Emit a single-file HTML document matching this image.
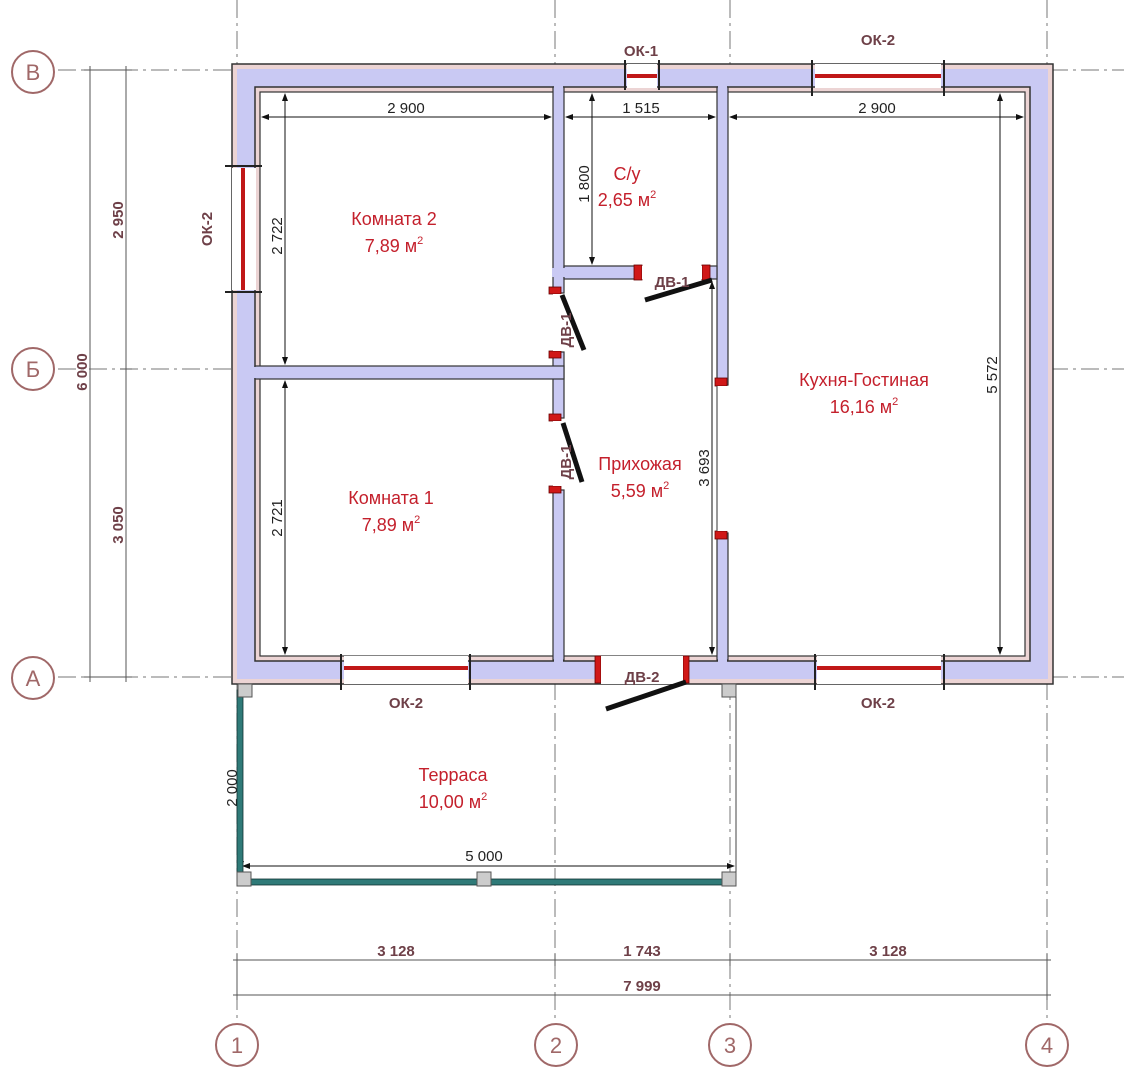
<!DOCTYPE html>
<html><head><meta charset="utf-8"><style>
html,body{margin:0;padding:0;background:#fff}
svg{display:block}
.ax{font:22px "Liberation Sans",sans-serif;fill:#a06868;text-anchor:middle}
.lb{font:bold 15px "Liberation Sans",sans-serif;fill:#6e4048;text-anchor:middle}
.rm{font:18px "Liberation Sans","DejaVu Sans",sans-serif;fill:#c4202c;text-anchor:middle}
.dm{font:15px "Liberation Sans",sans-serif;fill:#222;text-anchor:middle}
</style></head><body>
<svg width="1124" height="1080" xmlns="http://www.w3.org/2000/svg">
<defs>
<marker id="a" markerWidth="8" markerHeight="8" refX="7" refY="4" orient="auto-start-reverse"><path d="M0,1 L8,4 L0,7Z" fill="#111"/></marker>
</defs>
<!-- grid lines -->
<g stroke="#777" stroke-width="1" stroke-dasharray="18,5,3,5">
<line x1="237" y1="0" x2="237" y2="1020"/><line x1="555" y1="0" x2="555" y2="1020"/>
<line x1="730" y1="0" x2="730" y2="1020"/><line x1="1047" y1="0" x2="1047" y2="1020"/>
<line x1="58" y1="70" x2="1124" y2="70"/><line x1="58" y1="369" x2="1124" y2="369"/><line x1="58" y1="677" x2="1124" y2="677"/>
</g>
<!-- axis circles -->
<g fill="#fff" stroke="#a06868" stroke-width="2">
<circle cx="33" cy="72" r="21"/><circle cx="33" cy="369" r="21"/><circle cx="33" cy="678" r="21"/>
<circle cx="237" cy="1045" r="21"/><circle cx="556" cy="1045" r="21"/><circle cx="730" cy="1045" r="21"/><circle cx="1047" cy="1045" r="21"/>
</g>
<text class="ax" x="33" y="80">В</text><text class="ax" x="33" y="377">Б</text><text class="ax" x="33" y="686">А</text>
<text class="ax" x="237" y="1053">1</text><text class="ax" x="556" y="1053">2</text><text class="ax" x="730" y="1053">3</text><text class="ax" x="1047" y="1053">4</text>
<!-- left dims -->
<g stroke="#555" stroke-width="1">
<line x1="90" y1="66" x2="90" y2="682"/><line x1="126" y1="66" x2="126" y2="682"/>
<line x1="84" y1="70" x2="132" y2="70"/><line x1="84" y1="677" x2="132" y2="677"/><line x1="120" y1="369" x2="132" y2="369"/>
<line x1="233" y1="960" x2="1051" y2="960"/><line x1="233" y1="995" x2="1051" y2="995"/>
<line x1="237" y1="954" x2="237" y2="1000"/><line x1="555" y1="954" x2="555" y2="966"/><line x1="730" y1="954" x2="730" y2="966"/><line x1="1047" y1="954" x2="1047" y2="1000"/>
</g>
<text class="lb" transform="translate(87,372) rotate(-90)">6 000</text>
<text class="lb" transform="translate(123,220) rotate(-90)">2 950</text>
<text class="lb" transform="translate(123,525) rotate(-90)">3 050</text>
<text class="lb" x="396" y="956">3 128</text><text class="lb" x="642" y="956">1 743</text><text class="lb" x="888" y="956">3 128</text>
<text class="lb" x="642" y="991">7 999</text>
<!-- walls -->
<rect x="232" y="64" width="821" height="620" fill="#ecd4d4" stroke="#333" stroke-width="1.5"/>
<rect x="237" y="69" width="811" height="610" fill="#c9c9f3"/>
<rect x="255" y="87" width="775" height="574" fill="#ecd4d4" stroke="#333" stroke-width="1.5"/>
<rect x="260" y="92" width="765" height="564" fill="#fff" stroke="#333" stroke-width="1.2"/>
<!-- interior walls -->
<g fill="#c9c9f3" stroke="#333" stroke-width="1.2">
<rect x="553" y="87" width="11" height="206"/>
<rect x="553" y="352" width="11" height="66"/>
<rect x="553" y="490" width="11" height="170"/>
<rect x="255" y="366" width="309" height="13"/>
<rect x="717" y="87" width="11" height="298"/>
<rect x="717" y="533" width="11" height="127"/>
<rect x="564" y="266" width="76" height="13"/>
<rect x="706" y="266" width="11" height="13"/>
</g>
<g fill="#c9c9f3"><rect x="554" y="655" width="9" height="8"/><rect x="718" y="655" width="9" height="8"/><rect x="554" y="84" width="9" height="8"/><rect x="718" y="84" width="9" height="8"/><rect x="552" y="268" width="13" height="9"/><rect x="252" y="367" width="8" height="11"/></g>
<!-- red caps -->
<g fill="#d01818" stroke="#600" stroke-width="0.8">
<rect x="549" y="287" width="12" height="7"/><rect x="549" y="351" width="12" height="7"/>
<rect x="549" y="414" width="12" height="7"/><rect x="549" y="486" width="12" height="7"/>
<rect x="634" y="265" width="8" height="15"/><rect x="702" y="265" width="8" height="15"/>
<rect x="715" y="378" width="12" height="8"/><rect x="715" y="531" width="12" height="8"/>
<rect x="595" y="656" width="6" height="27"/><rect x="683" y="656" width="6" height="27"/>
</g>
<!-- door openings & leaves -->
<rect x="601" y="656" width="82" height="28" fill="#fff"/>
<rect x="553" y="294" width="11" height="57" fill="#fff"/><rect x="553" y="421" width="11" height="65" fill="#fff"/>
<rect x="642" y="266" width="60" height="13" fill="#fff"/><rect x="717" y="386" width="11" height="145" fill="#fff"/>
<line x1="717" y1="386" x2="717" y2="531" stroke="#333"/>
<g stroke="#111" stroke-width="5"><line x1="686" y1="682" x2="606" y2="709"/><line x1="562" y1="295" x2="584" y2="350"/><line x1="563" y1="423" x2="582" y2="482"/><line x1="712" y1="280" x2="645" y2="300"/></g>
<text class="lb" x="642" y="682">ДВ-2</text>
<text class="lb" x="672" y="287">ДВ-1</text>
<text class="lb" transform="translate(571,330) rotate(-90)">ДВ-1</text>
<text class="lb" transform="translate(571,462) rotate(-90)">ДВ-1</text>
<!-- windows -->
<g>
<rect x="627" y="64" width="30" height="24" fill="#fff"/><rect x="815" y="64" width="126" height="24" fill="#fff"/>
<rect x="344" y="656" width="124" height="28" fill="#fff"/><rect x="817" y="656" width="124" height="28" fill="#fff"/>
<rect x="232" y="168" width="24" height="122" fill="#fff"/>
</g>
<g fill="#c01818"><rect x="627" y="74" width="30" height="4"/><rect x="815" y="74" width="126" height="4"/><rect x="344" y="666" width="124" height="4"/><rect x="817" y="666" width="124" height="4"/><rect x="241" y="168" width="4" height="122"/></g>
<g stroke="#222" stroke-width="2">
<line x1="625" y1="60" x2="625" y2="90"/><line x1="659" y1="60" x2="659" y2="90"/><line x1="812" y1="60" x2="812" y2="96"/><line x1="944" y1="60" x2="944" y2="96"/>
<line x1="341" y1="654" x2="341" y2="690"/><line x1="470" y1="654" x2="470" y2="690"/><line x1="815" y1="654" x2="815" y2="690"/><line x1="944" y1="654" x2="944" y2="690"/>
<line x1="225" y1="166" x2="262" y2="166"/><line x1="225" y1="292" x2="262" y2="292"/>
</g>
<text class="lb" x="641" y="56">ОК-1</text><text class="lb" x="878" y="45">ОК-2</text>
<text class="lb" x="406" y="708">ОК-2</text><text class="lb" x="878" y="708">ОК-2</text>
<text class="lb" transform="translate(212,229) rotate(-90)">ОК-2</text>
<!-- interior dims -->
<g stroke="#111" stroke-width="1" marker-start="url(#a)" marker-end="url(#a)">
<line x1="262" y1="117" x2="551" y2="117"/><line x1="566" y1="117" x2="715" y2="117"/><line x1="730" y1="117" x2="1023" y2="117"/>
<line x1="285" y1="94" x2="285" y2="364"/><line x1="285" y1="381" x2="285" y2="654"/>
<line x1="592" y1="94" x2="592" y2="264"/><line x1="1000" y1="94" x2="1000" y2="654"/>
<line x1="712" y1="282" x2="712" y2="654"/>
<line x1="241" y1="690" x2="241" y2="868"/><line x1="243" y1="866" x2="734" y2="866"/>
</g>
<text class="dm" x="406" y="113">2 900</text><text class="dm" x="641" y="113">1 515</text><text class="dm" x="877" y="113">2 900</text>
<text class="dm" transform="translate(282,236) rotate(-90)">2 722</text><text class="dm" transform="translate(282,518) rotate(-90)">2 721</text>
<text class="dm" transform="translate(589,184) rotate(-90)">1 800</text><text class="dm" transform="translate(997,375) rotate(-90)">5 572</text>
<text class="dm" transform="translate(709,468) rotate(-90)">3 693</text>
<text class="dm" transform="translate(237,788) rotate(-90)">2 000</text><text class="dm" x="484" y="861">5 000</text>
<!-- rooms -->
<text class="rm" x="394" y="225">Комната 2</text><text class="rm" x="394" y="252">7,89 м<tspan font-size="11" dy="-8">2</tspan></text>
<text class="rm" x="627" y="180">С/у</text><text class="rm" x="627" y="206">2,65 м<tspan font-size="11" dy="-8">2</tspan></text>
<text class="rm" x="864" y="386">Кухня-Гостиная</text><text class="rm" x="864" y="413">16,16 м<tspan font-size="11" dy="-8">2</tspan></text>
<text class="rm" x="640" y="470">Прихожая</text><text class="rm" x="640" y="497">5,59 м<tspan font-size="11" dy="-8">2</tspan></text>
<text class="rm" x="391" y="504">Комната 1</text><text class="rm" x="391" y="531">7,89 м<tspan font-size="11" dy="-8">2</tspan></text>
<text class="rm" x="453" y="781">Терраса</text><text class="rm" x="453" y="808">10,00 м<tspan font-size="11" dy="-8">2</tspan></text>
<!-- terrace -->
<g fill="#2f7a78" stroke="#133" stroke-width="0.8"><rect x="237" y="690" width="6" height="184"/><rect x="247" y="879" width="478" height="6"/></g>
<g fill="#ccc" stroke="#555"><rect x="238" y="684" width="14" height="13"/><rect x="722" y="684" width="14" height="13"/><rect x="237" y="872" width="14" height="14"/><rect x="477" y="872" width="14" height="14"/><rect x="722" y="872" width="14" height="14"/></g>
<line x1="736" y1="697" x2="736" y2="872" stroke="#444"/>
</svg>
</body></html>
